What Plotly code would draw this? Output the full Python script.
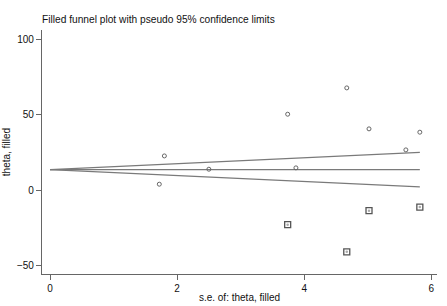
import plotly.graph_objects as go

# Observed studies
se_obs = [1.72, 1.80, 2.50, 3.74, 3.87, 4.67, 5.02, 5.60, 5.82]
theta_obs = [4.0, 22.7, 13.9, 50.3, 14.8, 67.7, 40.6, 26.7, 38.4]
# Filled (imputed) studies
se_fill = [3.74, 4.67, 5.02, 5.82]
theta_fill = [-22.8, -40.7, -13.5, -11.1]
# Pooled estimate
theta_pooled = 13.6

x_ticks = [0, 2, 4, 6]
y_ticks = [-50, 0, 50, 100]

se_max = max(se_obs + se_fill)
line_x = [0, se_max]
upper = [theta_pooled + 1.96 * s for s in line_x]
lower = [theta_pooled - 1.96 * s for s in line_x]

lc = "#7a7a7a"
mc = "#666666"
fig = go.Figure()
fig.add_trace(go.Scatter(x=line_x, y=upper, mode="lines", line=dict(color=lc, width=1.2)))
fig.add_trace(go.Scatter(x=line_x, y=[theta_pooled, theta_pooled], mode="lines", line=dict(color=lc, width=1.2)))
fig.add_trace(go.Scatter(x=line_x, y=lower, mode="lines", line=dict(color=lc, width=1.2)))
fig.add_trace(go.Scatter(x=se_fill, y=theta_fill, mode="markers",
                         marker=dict(symbol="square-open", size=6, color="#555555", line=dict(width=1.3))))
fig.add_trace(go.Scatter(x=se_obs, y=theta_obs, mode="markers",
                         marker=dict(symbol="circle-open", size=4, color=mc, line=dict(width=1))))
fig.add_trace(go.Scatter(x=se_fill, y=theta_fill, mode="markers",
                         marker=dict(symbol="circle", size=2.5, color="#aaaaaa")))

axis_font = dict(family="Liberation Sans, Arial, sans-serif", size=10, color="#111111")
fig.update_layout(
    width=447, height=306,
    margin=dict(l=42, r=10, t=30, b=32, autoexpand=False),
    paper_bgcolor="white", plot_bgcolor="white",
    showlegend=False,
    title=dict(text="Filled funnel plot with pseudo 95% confidence limits",
               x=42/447, xanchor="left", y=1-19/306, yanchor="middle",
               font=dict(family="Liberation Sans, Arial, sans-serif", size=10.2, color="#111111")),
    font=axis_font,
)
fig.update_xaxes(range=[-0.126, 6.09], tickvals=x_ticks, ticks="outside", ticklen=5,
                 tickcolor="#666666", showline=True, linecolor="#666666", linewidth=1.2,
                 showgrid=False, zeroline=False, tickfont=axis_font, automargin=False,
                 title=dict(text="s.e. of: theta, filled", font=axis_font, standoff=0))
fig.update_yaxes(range=[-55.4, 106], tickvals=y_ticks, ticks="outside", ticklen=5,
                 tickcolor="#666666", showline=True, linecolor="#666666", linewidth=1.2,
                 showgrid=False, zeroline=False, tickfont=axis_font, automargin=False,
                 title=dict(text="theta, filled", font=axis_font, standoff=4))

fig.write_html("out.html", config={"displayModeBar": False},
               post_script="document.body.style.margin='0';")
